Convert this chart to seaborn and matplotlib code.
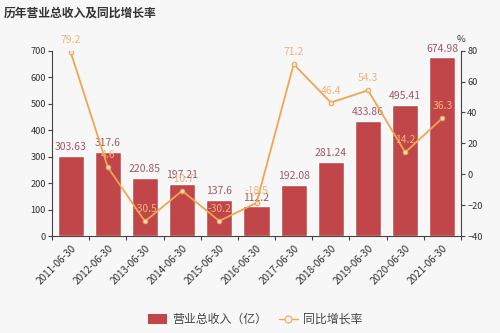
import matplotlib
matplotlib.use("Agg")
import matplotlib.pyplot as plt
from matplotlib.patches import FancyBboxPatch
from matplotlib.lines import Line2D
import seaborn as sns
import pandas as pd
import numpy as np

periods = ["2011-06-30", "2012-06-30", "2013-06-30", "2014-06-30", "2015-06-30",
           "2016-06-30", "2017-06-30", "2018-06-30", "2019-06-30", "2020-06-30",
           "2021-06-30"]
revenue = [303.63, 317.6, 220.85, 197.21, 137.6, 112.2, 192.08, 281.24, 433.86, 495.41, 674.98]
growth = [79.2, 4.6, -30.5, -10.7, -30.2, -18.5, 71.2, 46.4, 54.3, 14.2, 36.3]
left_ticks = [0, 100, 200, 300, 400, 500, 600, 700]
right_ticks = [-40, -20, 0, 20, 40, 60, 80]

bar_name = "营业总收入（亿）"
line_name = "同比增长率"
title = "历年营业总收入及同比增长率"

BG = "#f7f7f7"
BAR = "#c04649"
BAR_TXT = "#a05a68"
LINE = "#f0a552"
LINE_TXT = "#f2b27a"
AX = "#444444"

sns.set_theme(style="white")
plt.rcParams["font.family"] = ["Noto Sans CJK SC", "DejaVu Sans"]

df = pd.DataFrame({"period": periods, "revenue": revenue, "growth": growth,
                   "pos": np.arange(len(periods))})

fig = plt.figure(figsize=(5.0, 3.33), dpi=100, facecolor=BG)
ax = fig.add_axes([0.104, 0.291, 0.818, 0.557])
ax.set_facecolor(BG)

sns.barplot(data=df, x="period", y="revenue", color=BAR, saturation=1,
            width=0.7, ax=ax, zorder=2)
ax.set_ylim(0, 700)
ax.set_xlim(-0.5, len(periods) - 0.5)
ax.set_yticks(left_ticks)

ax2 = ax.twinx()
sns.lineplot(data=df, x="pos", y="growth", ax=ax2, color=LINE, linewidth=1.3,
             marker="o", markersize=3.2, markerfacecolor="#fbe6d2",
             markeredgecolor=LINE, markeredgewidth=0.8, zorder=3)
ax2.set_ylim(-40, 80)
ax2.set_yticks(right_ticks)
ax2.set_xlim(-0.5, len(periods) - 0.5)

for a in (ax, ax2):
    a.set_xlabel("")
    a.set_ylabel("")
    for s in a.spines.values():
        s.set_color(AX)
        s.set_linewidth(0.8)
    a.spines["top"].set_visible(False)

ax.spines["right"].set_visible(False)
ax2.spines["left"].set_visible(False)
ax2.spines["bottom"].set_visible(False)

ax.tick_params(axis="y", length=3, width=0.8, color=AX, labelsize=6.6,
               labelcolor="#333333", pad=1.5, left=True)
ax2.tick_params(axis="y", length=3, width=0.8, color=AX, labelsize=6.6,
                labelcolor="#333333", pad=1.5, right=True)

# x-axis: labels at category centres, tick marks at category boundaries
ax.set_xticks(np.arange(len(periods)))
ax.set_xticklabels(periods, rotation=45, ha="right", rotation_mode="anchor",
                   fontsize=7.2, color="#333333")
ax.tick_params(axis="x", which="major", length=0, pad=5, bottom=True)
ax.set_xticks(np.arange(-0.5, len(periods)), minor=True)
ax.tick_params(axis="x", which="minor", length=3, width=0.8, color=AX, bottom=True)

ax2.text(1.0, 1.035, "%", transform=ax2.transAxes, fontsize=6.8,
         color="#333333", ha="center", va="bottom")

for i, v in enumerate(revenue):
    ax.text(i, v + 14, f"{v:g}", ha="center", va="bottom", fontsize=7.5,
            color=BAR_TXT, zorder=5)
for i, g in enumerate(growth):
    ax2.text(i, g + 4.5, f"{g:g}", ha="center", va="bottom", fontsize=7.5,
             color=LINE_TXT, zorder=6)

fig.text(0.008, 0.962, title, fontsize=8.5, fontweight="bold", color="#333333",
         ha="left", va="center")

legend_handles = [
    FancyBboxPatch((0, 0), 1, 1, boxstyle="round,pad=0,rounding_size=0.3",
                   facecolor=BAR, edgecolor="none"),
    Line2D([0], [0], color=LINE, linewidth=1.0, marker="o", markersize=5,
           markerfacecolor=BG, markeredgecolor=LINE, markeredgewidth=0.8),
]
fig.legend(legend_handles, [bar_name, line_name], loc="center",
           bbox_to_anchor=(0.51, 0.04), ncol=2, frameon=False, fontsize=8.6,
           handlelength=1.6, handleheight=0.9, columnspacing=1.0,
           handletextpad=0.4, labelcolor="#444444")

fig.savefig("out.png", dpi=100, facecolor=BG)
